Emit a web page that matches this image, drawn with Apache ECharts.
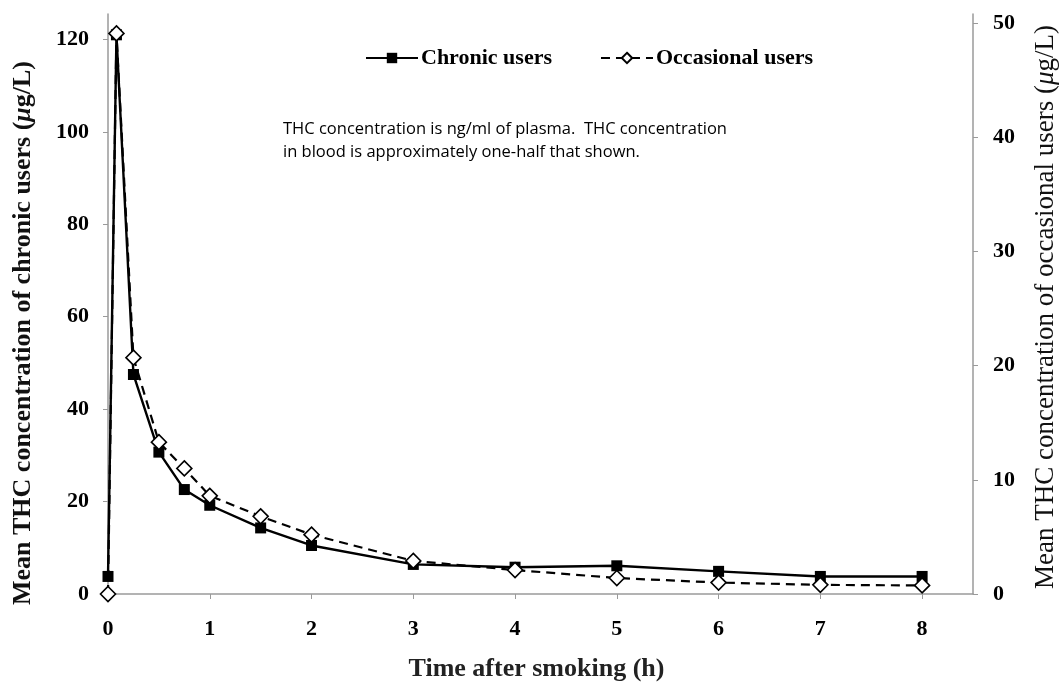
<!DOCTYPE html>
<html>
<head>
<meta charset="utf-8">
<script src="https://cdn.jsdelivr.net/npm/echarts@6/dist/echarts.min.js"></script>
<style>
  html, body { margin: 0; padding: 0; background: #fff; }
  #chart { width: 1062px; height: 687px; }
</style>
</head>
<body>
<div id="chart"></div>
<script>
// hours after smoking
var times = [0, 0.083, 0.25, 0.5, 0.75, 1, 1.5, 2, 3, 4, 5, 6, 7, 8];
// left axis (ug/L)
var chronic = [3.8, 121, 47.5, 30.7, 22.6, 19.2, 14.3, 10.5, 6.4, 5.8, 6.1, 4.9, 3.8, 3.8];
// right axis (ug/L)
var occasional = [0, 49.1, 20.7, 13.3, 11.0, 8.6, 6.8, 5.2, 2.9, 2.1, 1.4, 1.0, 0.8, 0.75];

var serif = '"Liberation Serif", "Times New Roman", serif';
var axisGray = '#9a9a9a';
var tickFont = { fontFamily: serif, fontWeight: 'bold', fontSize: 22, color: '#000' };

function pairs(xs, ys) {
  return xs.map(function (x, i) { return [x, ys[i]]; });
}

var myChart = echarts.init(document.getElementById('chart'));
myChart.setOption({
  animation: false,
  backgroundColor: '#fff',
  grid: { left: 108, right: 89, top: 14, bottom: 85 },
  legend: {
    top: 42,
    left: 360,
    itemWidth: 52,
    itemHeight: 13,
    itemGap: 48,
    textStyle: { fontFamily: serif, fontWeight: 'bold', fontSize: 22, color: '#000', padding: [0, 0, 0, -2] },
    data: ['Chronic users', 'Occasional users']
  },
  graphic: [{
    type: 'text',
    left: 283,
    top: 118,
    style: {
      text: 'THC concentration is ng/ml of plasma.  THC concentration\nin blood is approximately one-half that shown.',
      font: '16.5px "Open Sans", sans-serif',
      lineHeight: 23,
      fill: '#000'
    }
  }, {
    type: 'text',
    x: 23,
    y: 333,
    rotation: Math.PI / 2,
    style: {
      text: '{a|Mean THC concentration of chronic users (}{i|μ}{a|g/L)}',
      align: 'center',
      verticalAlign: 'middle',
      rich: {
        a: { fontFamily: serif, fontWeight: 'bold', fontSize: 26, fill: '#111' },
        i: { fontFamily: serif, fontWeight: 'bold', fontStyle: 'italic', fontSize: 26, fill: '#111' }
      }
    }
  }, {
    type: 'text',
    x: 1046,
    y: 307,
    rotation: Math.PI / 2,
    style: {
      text: '{a|Mean THC concentration of occasional users (}{i|μ}{a|g/L)}',
      align: 'center',
      verticalAlign: 'middle',
      rich: {
        a: { fontFamily: serif, fontSize: 27, fill: '#111' },
        i: { fontFamily: serif, fontStyle: 'italic', fontSize: 27, fill: '#111' }
      }
    }
  }],
  xAxis: {
    type: 'value',
    min: 0,
    max: 8.5,
    interval: 1,
    name: 'Time after smoking (h)',
    nameLocation: 'middle',
    nameGap: 62,
    nameTextStyle: { fontFamily: serif, fontWeight: 'bold', fontSize: 26, color: '#222', padding: [0, 8, 0, 0] },
    axisLine: { lineStyle: { color: axisGray, width: 1.5 } },
    axisTick: { length: 5, lineStyle: { color: axisGray } },
    axisLabel: Object.assign({ showMaxLabel: false, margin: 24 }, tickFont),
    splitLine: { show: false }
  },
  yAxis: [{
    type: 'value',
    position: 'left',
    min: 0,
    max: 125.5,
    interval: 20,
    axisLine: { show: true, lineStyle: { color: axisGray, width: 1.5 } },
    axisTick: { show: true, length: 5, lineStyle: { color: axisGray } },
    axisLabel: Object.assign({ showMaxLabel: false, margin: 19 }, tickFont),
    splitLine: { show: false }
  }, {
    type: 'value',
    position: 'right',
    min: 0,
    max: 50.8,
    interval: 10,
    axisLine: { show: true, lineStyle: { color: axisGray, width: 1.5 } },
    axisTick: { show: true, length: 5, lineStyle: { color: axisGray } },
    axisLabel: Object.assign({ showMaxLabel: false, margin: 20 }, tickFont),
    splitLine: { show: false }
  }],
  series: [{
    name: 'Occasional users',
    type: 'line',
    yAxisIndex: 1,
    data: pairs(times, occasional),
    symbol: 'diamond',
    symbolSize: 15,
    z: 3,
    lineStyle: { color: '#000', width: 2.2, type: [9, 6] },
    itemStyle: { color: '#fff', borderColor: '#000', borderWidth: 1.6 }
  }, {
    name: 'Chronic users',
    type: 'line',
    yAxisIndex: 0,
    data: pairs(times, chronic),
    symbol: 'rect',
    symbolSize: 11,
    z: 2,
    lineStyle: { color: '#000', width: 2.4 },
    itemStyle: { color: '#000', borderColor: '#000', borderWidth: 0 }
  }]
});
</script>
</body>
</html>
